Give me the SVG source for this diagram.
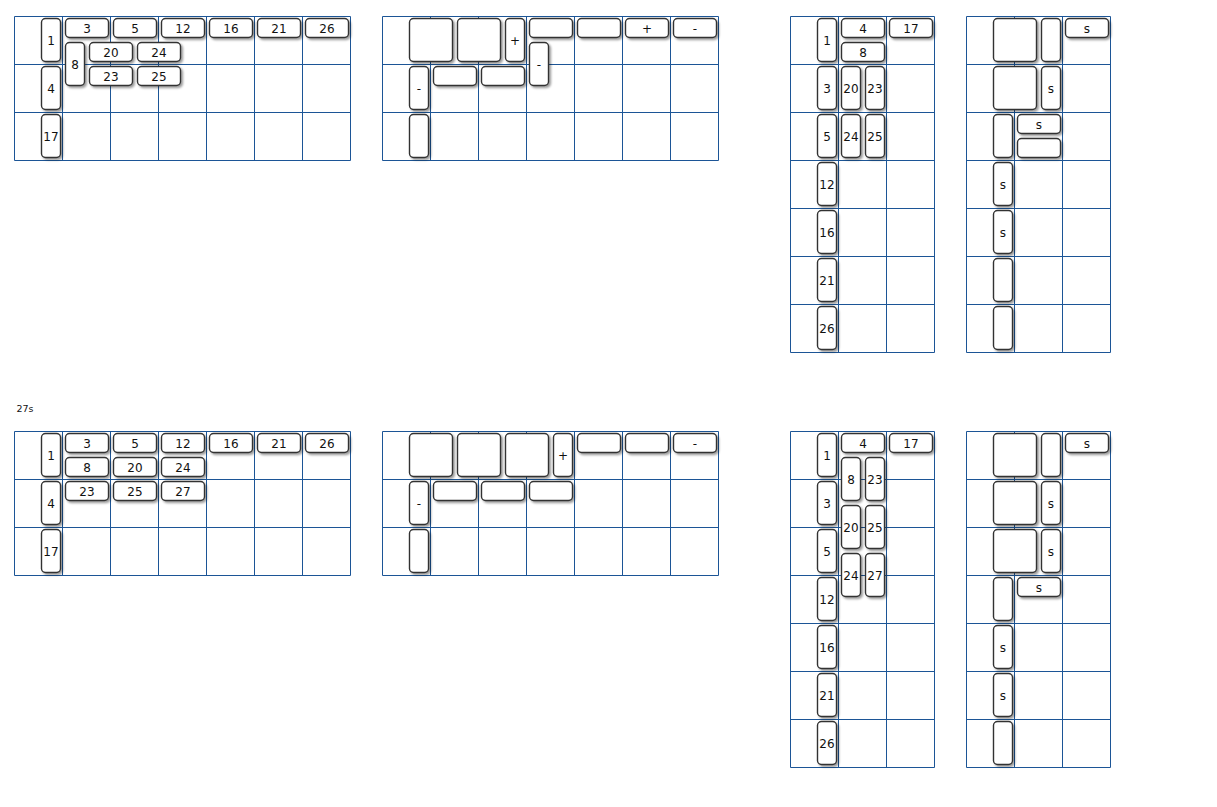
<svg xmlns="http://www.w3.org/2000/svg" width="1217" height="807" viewBox="0 0 1217 807">
<defs>
<filter id="sh" x="-30%" y="-30%" width="160%" height="160%"><feDropShadow dx="1.8" dy="1.8" stdDeviation="1.2" flood-color="#000" flood-opacity="0.4"/></filter>
<style>
.grid{fill:none;stroke:#1c5596;stroke-width:1}
.n rect{fill:#fff;stroke:#333;stroke-width:1.4;filter:url(#sh)}
.n text{font-family:"DejaVu Sans","Liberation Sans",sans-serif;font-size:12px;fill:#111;text-anchor:middle}
.lbl{font-family:"DejaVu Sans","Liberation Sans",sans-serif;font-size:9.5px;fill:#111}
</style>
</defs>
<rect width="1217" height="807" fill="#fff"/>
<g id="grids">
<path class="grid" d="M14.5 16.5H350.5M14.5 64.5H350.5M14.5 112.5H350.5M14.5 160.5H350.5M14.5 16.5V160.5M62.5 16.5V160.5M110.5 16.5V160.5M158.5 16.5V160.5M206.5 16.5V160.5M254.5 16.5V160.5M302.5 16.5V160.5M350.5 16.5V160.5"/>
<path class="grid" d="M382.5 16.5H718.5M382.5 64.5H718.5M382.5 112.5H718.5M382.5 160.5H718.5M382.5 16.5V160.5M430.5 16.5V160.5M478.5 16.5V160.5M526.5 16.5V160.5M574.5 16.5V160.5M622.5 16.5V160.5M670.5 16.5V160.5M718.5 16.5V160.5"/>
<path class="grid" d="M790.5 16.5H934.5M790.5 64.5H934.5M790.5 112.5H934.5M790.5 160.5H934.5M790.5 208.5H934.5M790.5 256.5H934.5M790.5 304.5H934.5M790.5 352.5H934.5M790.5 16.5V352.5M838.5 16.5V352.5M886.5 16.5V352.5M934.5 16.5V352.5"/>
<path class="grid" d="M966.5 16.5H1110.5M966.5 64.5H1110.5M966.5 112.5H1110.5M966.5 160.5H1110.5M966.5 208.5H1110.5M966.5 256.5H1110.5M966.5 304.5H1110.5M966.5 352.5H1110.5M966.5 16.5V352.5M1014.5 16.5V352.5M1062.5 16.5V352.5M1110.5 16.5V352.5"/>
<g transform="translate(0,-1)">
<path class="grid" d="M14.5 432.5H350.5M14.5 480.5H350.5M14.5 528.5H350.5M14.5 576.5H350.5M14.5 432.5V576.5M62.5 432.5V576.5M110.5 432.5V576.5M158.5 432.5V576.5M206.5 432.5V576.5M254.5 432.5V576.5M302.5 432.5V576.5M350.5 432.5V576.5"/>
<path class="grid" d="M382.5 432.5H718.5M382.5 480.5H718.5M382.5 528.5H718.5M382.5 576.5H718.5M382.5 432.5V576.5M430.5 432.5V576.5M478.5 432.5V576.5M526.5 432.5V576.5M574.5 432.5V576.5M622.5 432.5V576.5M670.5 432.5V576.5M718.5 432.5V576.5"/>
<path class="grid" d="M790.5 432.5H934.5M790.5 480.5H934.5M790.5 528.5H934.5M790.5 576.5H934.5M790.5 624.5H934.5M790.5 672.5H934.5M790.5 720.5H934.5M790.5 768.5H934.5M790.5 432.5V768.5M838.5 432.5V768.5M886.5 432.5V768.5M934.5 432.5V768.5"/>
<path class="grid" d="M966.5 432.5H1110.5M966.5 480.5H1110.5M966.5 528.5H1110.5M966.5 576.5H1110.5M966.5 624.5H1110.5M966.5 672.5H1110.5M966.5 720.5H1110.5M966.5 768.5H1110.5M966.5 432.5V768.5M1014.5 432.5V768.5M1062.5 432.5V768.5M1110.5 432.5V768.5"/>
</g>
</g>
<text class="lbl" x="16.5" y="411.5">27s</text>
<!-- top-left -->
<g id="a1" class="n"><rect x="41.5" y="18.5" width="19" height="43" rx="4"/><text x="51" y="44.5">1</text></g>
<g id="a3" class="n"><rect x="65.5" y="18.5" width="43" height="19" rx="4"/><text x="87" y="32.5">3</text></g>
<g id="a5" class="n"><rect x="113.5" y="18.5" width="43" height="19" rx="4"/><text x="135" y="32.5">5</text></g>
<g id="a12" class="n"><rect x="161.5" y="18.5" width="43" height="19" rx="4"/><text x="183" y="32.5">12</text></g>
<g id="a16" class="n"><rect x="209.5" y="18.5" width="43" height="19" rx="4"/><text x="231" y="32.5">16</text></g>
<g id="a21" class="n"><rect x="257.5" y="18.5" width="43" height="19" rx="4"/><text x="279" y="32.5">21</text></g>
<g id="a26" class="n"><rect x="305.5" y="18.5" width="43" height="19" rx="4"/><text x="327" y="32.5">26</text></g>
<g id="a8" class="n"><rect x="65.5" y="42.5" width="19" height="43" rx="4"/><text x="75" y="68.5">8</text></g>
<g id="a20" class="n"><rect x="89.5" y="42.5" width="43" height="19" rx="4"/><text x="111" y="56.5">20</text></g>
<g id="a24" class="n"><rect x="137.5" y="42.5" width="43" height="19" rx="4"/><text x="159" y="56.5">24</text></g>
<g id="a23" class="n"><rect x="89.5" y="66.5" width="43" height="19" rx="4"/><text x="111" y="80.5">23</text></g>
<g id="a25" class="n"><rect x="137.5" y="66.5" width="43" height="19" rx="4"/><text x="159" y="80.5">25</text></g>
<g id="a4" class="n"><rect x="41.5" y="66.5" width="19" height="43" rx="4"/><text x="51" y="92.5">4</text></g>
<g id="a17" class="n"><rect x="41.5" y="114.5" width="19" height="43" rx="4"/><text x="51" y="140.5">17</text></g>
<!-- top second -->
<g id="b1" class="n"><rect x="409.5" y="18.5" width="43" height="43" rx="4"/></g>
<g id="b2" class="n"><rect x="457.5" y="18.5" width="43" height="43" rx="4"/></g>
<g id="b3" class="n"><rect x="505.5" y="18.5" width="19" height="43" rx="4"/><text x="515" y="44.5">+</text></g>
<g id="b4" class="n"><rect x="529.5" y="18.5" width="43" height="19" rx="4"/></g>
<g id="b5" class="n"><rect x="577.5" y="18.5" width="43" height="19" rx="4"/></g>
<g id="b6" class="n"><rect x="625.5" y="18.5" width="43" height="19" rx="4"/><text x="647" y="32.5">+</text></g>
<g id="b7" class="n"><rect x="673.5" y="18.5" width="43" height="19" rx="4"/><text x="695" y="32.5">-</text></g>
<g id="b8" class="n"><rect x="529.5" y="42.5" width="19" height="43" rx="4"/><text x="539" y="68.5">-</text></g>
<g id="b9" class="n"><rect x="409.5" y="66.5" width="19" height="43" rx="4"/><text x="419" y="92.5">-</text></g>
<g id="b10" class="n"><rect x="433.5" y="66.5" width="43" height="19" rx="4"/></g>
<g id="b11" class="n"><rect x="481.5" y="66.5" width="43" height="19" rx="4"/></g>
<g id="b12" class="n"><rect x="409.5" y="114.5" width="19" height="43" rx="4"/></g>
<!-- top third -->
<g id="c1" class="n"><rect x="817.5" y="18.5" width="19" height="43" rx="4"/><text x="827" y="44.5">1</text></g>
<g id="c4" class="n"><rect x="841.5" y="18.5" width="43" height="19" rx="4"/><text x="863" y="32.5">4</text></g>
<g id="c17" class="n"><rect x="889.5" y="18.5" width="43" height="19" rx="4"/><text x="911" y="32.5">17</text></g>
<g id="c8" class="n"><rect x="841.5" y="42.5" width="43" height="19" rx="4"/><text x="863" y="56.5">8</text></g>
<g id="c3" class="n"><rect x="817.5" y="66.5" width="19" height="43" rx="4"/><text x="827" y="92.5">3</text></g>
<g id="c20" class="n"><rect x="841.5" y="66.5" width="19" height="43" rx="4"/><text x="851" y="92.5">20</text></g>
<g id="c23" class="n"><rect x="865.5" y="66.5" width="19" height="43" rx="4"/><text x="875" y="92.5">23</text></g>
<g id="c5" class="n"><rect x="817.5" y="114.5" width="19" height="43" rx="4"/><text x="827" y="140.5">5</text></g>
<g id="c24" class="n"><rect x="841.5" y="114.5" width="19" height="43" rx="4"/><text x="851" y="140.5">24</text></g>
<g id="c25" class="n"><rect x="865.5" y="114.5" width="19" height="43" rx="4"/><text x="875" y="140.5">25</text></g>
<g id="c12" class="n"><rect x="817.5" y="162.5" width="19" height="43" rx="4"/><text x="827" y="188.5">12</text></g>
<g id="c16" class="n"><rect x="817.5" y="210.5" width="19" height="43" rx="4"/><text x="827" y="236.5">16</text></g>
<g id="c21" class="n"><rect x="817.5" y="258.5" width="19" height="43" rx="4"/><text x="827" y="284.5">21</text></g>
<g id="c26" class="n"><rect x="817.5" y="306.5" width="19" height="43" rx="4"/><text x="827" y="332.5">26</text></g>
<!-- top fourth -->
<g id="d1" class="n"><rect x="993.5" y="18.5" width="43" height="43" rx="4"/></g>
<g id="d2" class="n"><rect x="1041.5" y="18.5" width="19" height="43" rx="4"/></g>
<g id="d3" class="n"><rect x="1065.5" y="18.5" width="43" height="19" rx="4"/><text x="1087" y="32.5">s</text></g>
<g id="d4" class="n"><rect x="993.5" y="66.5" width="43" height="43" rx="4"/></g>
<g id="d5" class="n"><rect x="1041.5" y="66.5" width="19" height="43" rx="4"/><text x="1051" y="92.5">s</text></g>
<g id="d6" class="n"><rect x="993.5" y="114.5" width="19" height="43" rx="4"/></g>
<g id="d7" class="n"><rect x="1017.5" y="114.5" width="43" height="19" rx="4"/><text x="1039" y="128.5">s</text></g>
<g id="d8" class="n"><rect x="1017.5" y="138.5" width="43" height="19" rx="4"/></g>
<g id="d9" class="n"><rect x="993.5" y="162.5" width="19" height="43" rx="4"/><text x="1003" y="188.5">s</text></g>
<g id="d10" class="n"><rect x="993.5" y="210.5" width="19" height="43" rx="4"/><text x="1003" y="236.5">s</text></g>
<g id="d11" class="n"><rect x="993.5" y="258.5" width="19" height="43" rx="4"/></g>
<g id="d12" class="n"><rect x="993.5" y="306.5" width="19" height="43" rx="4"/></g>
<g id="bottom" transform="translate(0,-1)">
<!-- bottom-left -->
<g id="e1" class="n"><rect x="41.5" y="434.5" width="19" height="43" rx="4"/><text x="51" y="460.5">1</text></g>
<g id="e3" class="n"><rect x="65.5" y="434.5" width="43" height="19" rx="4"/><text x="87" y="448.5">3</text></g>
<g id="e5" class="n"><rect x="113.5" y="434.5" width="43" height="19" rx="4"/><text x="135" y="448.5">5</text></g>
<g id="e12" class="n"><rect x="161.5" y="434.5" width="43" height="19" rx="4"/><text x="183" y="448.5">12</text></g>
<g id="e16" class="n"><rect x="209.5" y="434.5" width="43" height="19" rx="4"/><text x="231" y="448.5">16</text></g>
<g id="e21" class="n"><rect x="257.5" y="434.5" width="43" height="19" rx="4"/><text x="279" y="448.5">21</text></g>
<g id="e26" class="n"><rect x="305.5" y="434.5" width="43" height="19" rx="4"/><text x="327" y="448.5">26</text></g>
<g id="e8" class="n"><rect x="65.5" y="458.5" width="43" height="19" rx="4"/><text x="87" y="472.5">8</text></g>
<g id="e20" class="n"><rect x="113.5" y="458.5" width="43" height="19" rx="4"/><text x="135" y="472.5">20</text></g>
<g id="e24" class="n"><rect x="161.5" y="458.5" width="43" height="19" rx="4"/><text x="183" y="472.5">24</text></g>
<g id="e23" class="n"><rect x="65.5" y="482.5" width="43" height="19" rx="4"/><text x="87" y="496.5">23</text></g>
<g id="e25" class="n"><rect x="113.5" y="482.5" width="43" height="19" rx="4"/><text x="135" y="496.5">25</text></g>
<g id="e27" class="n"><rect x="161.5" y="482.5" width="43" height="19" rx="4"/><text x="183" y="496.5">27</text></g>
<g id="e4" class="n"><rect x="41.5" y="482.5" width="19" height="43" rx="4"/><text x="51" y="508.5">4</text></g>
<g id="e17" class="n"><rect x="41.5" y="530.5" width="19" height="43" rx="4"/><text x="51" y="556.5">17</text></g>
<!-- bottom second -->
<g id="f1" class="n"><rect x="409.5" y="434.5" width="43" height="43" rx="4"/></g>
<g id="f2" class="n"><rect x="457.5" y="434.5" width="43" height="43" rx="4"/></g>
<g id="f3" class="n"><rect x="505.5" y="434.5" width="43" height="43" rx="4"/></g>
<g id="f4" class="n"><rect x="553.5" y="434.5" width="19" height="43" rx="4"/><text x="563" y="460.5">+</text></g>
<g id="f5" class="n"><rect x="577.5" y="434.5" width="43" height="19" rx="4"/></g>
<g id="f6" class="n"><rect x="625.5" y="434.5" width="43" height="19" rx="4"/></g>
<g id="f7" class="n"><rect x="673.5" y="434.5" width="43" height="19" rx="4"/><text x="695" y="448.5">-</text></g>
<g id="f8" class="n"><rect x="409.5" y="482.5" width="19" height="43" rx="4"/><text x="419" y="508.5">-</text></g>
<g id="f9" class="n"><rect x="433.5" y="482.5" width="43" height="19" rx="4"/></g>
<g id="f10" class="n"><rect x="481.5" y="482.5" width="43" height="19" rx="4"/></g>
<g id="f11" class="n"><rect x="529.5" y="482.5" width="43" height="19" rx="4"/></g>
<g id="f12" class="n"><rect x="409.5" y="530.5" width="19" height="43" rx="4"/></g>
<!-- bottom third -->
<g id="g1" class="n"><rect x="817.5" y="434.5" width="19" height="43" rx="4"/><text x="827" y="460.5">1</text></g>
<g id="g4" class="n"><rect x="841.5" y="434.5" width="43" height="19" rx="4"/><text x="863" y="448.5">4</text></g>
<g id="g17" class="n"><rect x="889.5" y="434.5" width="43" height="19" rx="4"/><text x="911" y="448.5">17</text></g>
<g id="g8" class="n"><rect x="841.5" y="458.5" width="19" height="43" rx="4"/><text x="851" y="484.5">8</text></g>
<g id="g23" class="n"><rect x="865.5" y="458.5" width="19" height="43" rx="4"/><text x="875" y="484.5">23</text></g>
<g id="g20" class="n"><rect x="841.5" y="506.5" width="19" height="43" rx="4"/><text x="851" y="532.5">20</text></g>
<g id="g25" class="n"><rect x="865.5" y="506.5" width="19" height="43" rx="4"/><text x="875" y="532.5">25</text></g>
<g id="g24" class="n"><rect x="841.5" y="554.5" width="19" height="43" rx="4"/><text x="851" y="580.5">24</text></g>
<g id="g27" class="n"><rect x="865.5" y="554.5" width="19" height="43" rx="4"/><text x="875" y="580.5">27</text></g>
<g id="g3" class="n"><rect x="817.5" y="482.5" width="19" height="43" rx="4"/><text x="827" y="508.5">3</text></g>
<g id="g5" class="n"><rect x="817.5" y="530.5" width="19" height="43" rx="4"/><text x="827" y="556.5">5</text></g>
<g id="g12" class="n"><rect x="817.5" y="578.5" width="19" height="43" rx="4"/><text x="827" y="604.5">12</text></g>
<g id="g16" class="n"><rect x="817.5" y="626.5" width="19" height="43" rx="4"/><text x="827" y="652.5">16</text></g>
<g id="g21" class="n"><rect x="817.5" y="674.5" width="19" height="43" rx="4"/><text x="827" y="700.5">21</text></g>
<g id="g26" class="n"><rect x="817.5" y="722.5" width="19" height="43" rx="4"/><text x="827" y="748.5">26</text></g>
<!-- bottom fourth -->
<g id="h1" class="n"><rect x="993.5" y="434.5" width="43" height="43" rx="4"/></g>
<g id="h2" class="n"><rect x="1041.5" y="434.5" width="19" height="43" rx="4"/></g>
<g id="h3" class="n"><rect x="1065.5" y="434.5" width="43" height="19" rx="4"/><text x="1087" y="448.5">s</text></g>
<g id="h4" class="n"><rect x="993.5" y="482.5" width="43" height="43" rx="4"/></g>
<g id="h5" class="n"><rect x="1041.5" y="482.5" width="19" height="43" rx="4"/><text x="1051" y="508.5">s</text></g>
<g id="h6" class="n"><rect x="993.5" y="530.5" width="43" height="43" rx="4"/></g>
<g id="h7" class="n"><rect x="1041.5" y="530.5" width="19" height="43" rx="4"/><text x="1051" y="556.5">s</text></g>
<g id="h8" class="n"><rect x="993.5" y="578.5" width="19" height="43" rx="4"/></g>
<g id="h9" class="n"><rect x="1017.5" y="578.5" width="43" height="19" rx="4"/><text x="1039" y="592.5">s</text></g>
<g id="h10" class="n"><rect x="993.5" y="626.5" width="19" height="43" rx="4"/><text x="1003" y="652.5">s</text></g>
<g id="h11" class="n"><rect x="993.5" y="674.5" width="19" height="43" rx="4"/><text x="1003" y="700.5">s</text></g>
<g id="h12" class="n"><rect x="993.5" y="722.5" width="19" height="43" rx="4"/></g>
</g>
</svg>
